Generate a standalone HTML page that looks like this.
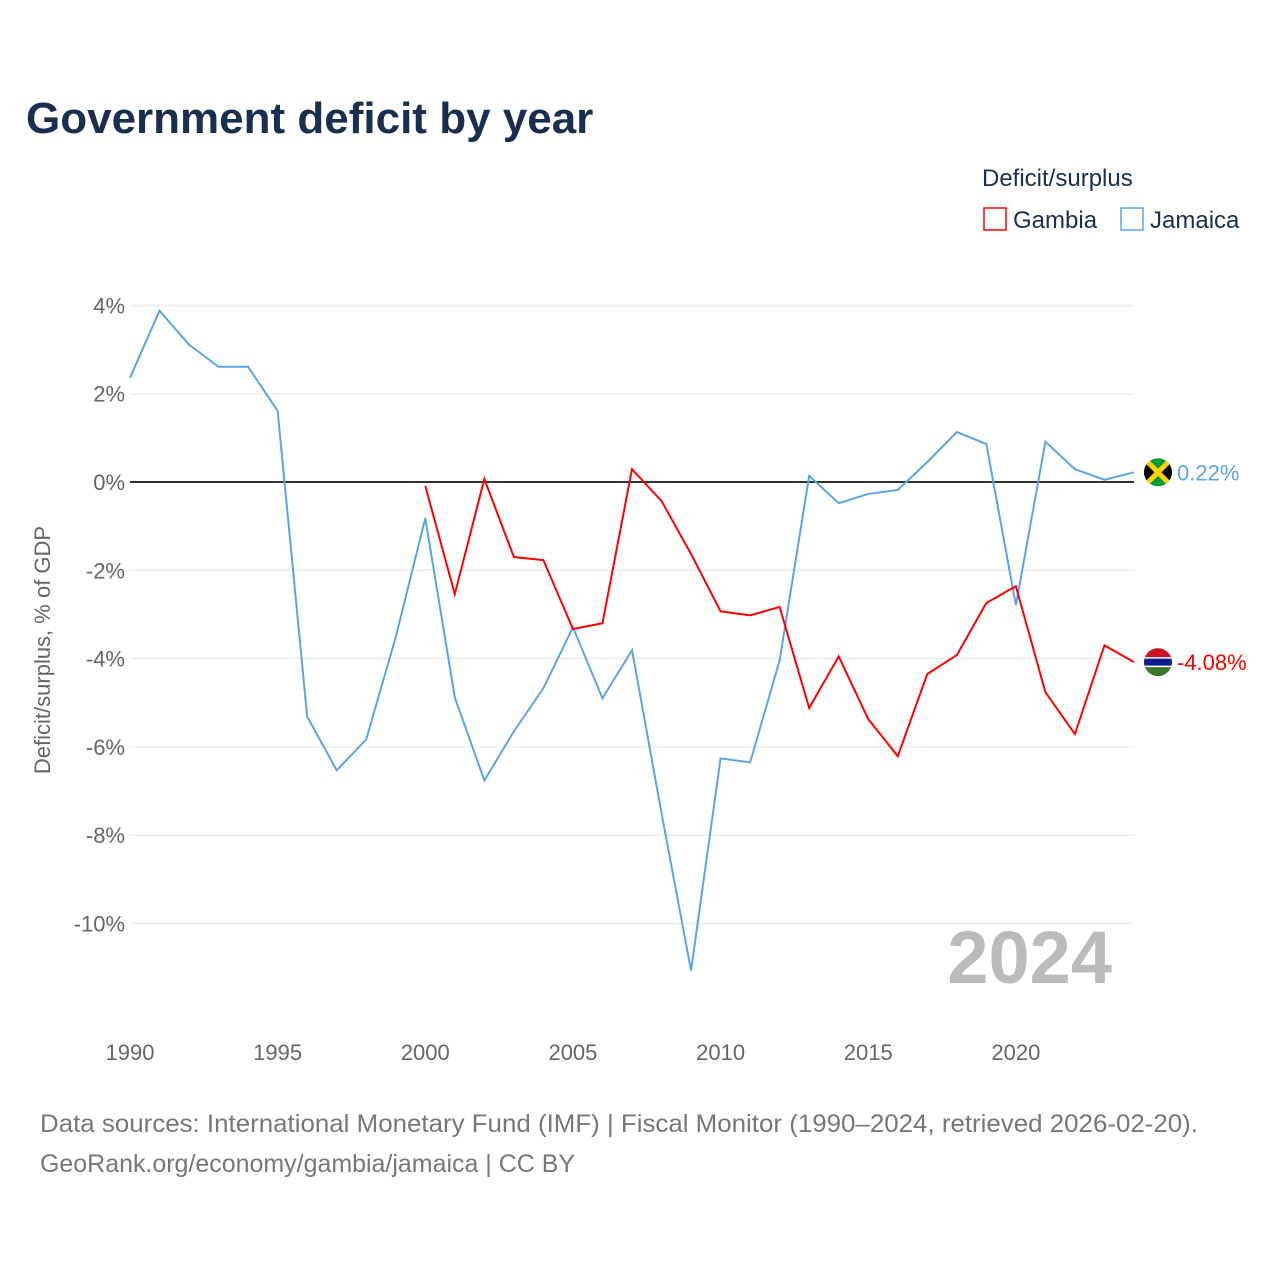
<!DOCTYPE html>
<html><head><meta charset="utf-8"><style>
body{margin:0;background:#fff;font-family:"Liberation Sans",sans-serif;}
#wrap{position:relative;width:1280px;height:1280px;overflow:hidden}
</style></head><body>
<div id="wrap">
<svg id="chart" width="1280" height="1280" font-family="Liberation Sans, sans-serif">
<text x="26" y="133" font-size="44" font-weight="bold" fill="#1a2e4f">Government deficit by year</text>
<text x="982" y="186" font-size="24" fill="#1a2e4f">Deficit/surplus</text>
<g><rect x="984" y="208" width="22" height="22" fill="none" stroke="#f00" stroke-width="1.5"/><text x="1013" y="228" font-size="24" fill="#1a2e4f">Gambia</text></g>
<g><rect x="1121" y="208" width="22" height="22" fill="none" stroke="#5aa5e8" stroke-width="1.5"/><text x="1150" y="228" font-size="24" fill="#1a2e4f">Jamaica</text></g>
<g id="grid"></g><g id="axes"></g><g id="series"></g>
<text x="1112" y="983" font-size="74" font-weight="bold" fill="#bbb" text-anchor="end">2024</text>
<text transform="translate(50,650) rotate(-90)" font-size="22" fill="#666" text-anchor="middle">Deficit/surplus, % of GDP</text>
<text x="40" y="1132" font-size="25" fill="#777" textLength="1158" lengthAdjust="spacingAndGlyphs">Data sources: International Monetary Fund (IMF) | Fiscal Monitor (1990–2024, retrieved 2026-02-20).</text>
<text x="40" y="1172" font-size="25" fill="#777" textLength="535" lengthAdjust="spacingAndGlyphs">GeoRank.org/economy/gambia/jamaica | CC BY</text>
</svg>
</div>
<script>
const years=[];for(let y=1990;y<=2024;y++)years.push(y);
const jamaica=[2.36,3.88,3.11,2.61,2.61,1.61,-5.31,-6.53,-5.83,-3.51,-0.82,-4.88,-6.76,-5.65,-4.67,-3.29,-4.90,-3.81,-7.5,-11.07,-6.26,-6.35,-4.04,0.14,-0.48,-0.27,-0.18,0.45,1.13,0.86,-2.79,0.91,0.29,0.05,0.22];
const gambiaYears=[2000,2001,2002,2003,2004,2005,2006,2007,2008,2009,2010,2011,2012,2013,2014,2015,2016,2017,2018,2019,2020,2021,2022,2023,2024];
const gambia=[-0.09,-2.54,0.07,-1.70,-1.77,-3.33,-3.20,0.29,-0.43,-1.63,-2.93,-3.02,-2.83,-5.12,-3.95,-5.37,-6.21,-4.35,-3.92,-2.74,-2.36,-4.76,-5.71,-3.70,-4.08];
const yTicks=[4,2,0,-2,-4,-6,-8,-10];
const xTicks=[1990,1995,2000,2005,2010,2015,2020];
const X=y=>130+(y-1990)*(1134-130)/34;
const Y=v=>482-v*44.15;
const NS='http://www.w3.org/2000/svg';
function mk(t,a,p){const e=document.createElementNS(NS,t);for(const k in a)e.setAttribute(k,a[k]);p.appendChild(e);return e;}
const grid=document.getElementById('grid'),axes=document.getElementById('axes'),ser=document.getElementById('series');
yTicks.forEach(v=>{
 const l=mk('line',{x1:130,x2:1134,y1:Y(v),y2:Y(v),stroke:v===0?'#333':'#e6e6e6','stroke-width':v===0?2:1},grid);
 
 
 const t=mk('text',{x:125,y:Y(v)+8,'font-size':22,fill:'#666','text-anchor':'end'},axes);t.textContent=v+'%';
 
 
});
xTicks.forEach(y=>{
 const t=mk('text',{x:X(y),y:1060,'font-size':22,fill:'#666','text-anchor':'middle'},axes);t.textContent=y;
 
 
});
const pj=mk('polyline',{points:years.map((y,i)=>X(y)+','+Y(jamaica[i])).join(' '),fill:'none',stroke:'#5aa5e8','stroke-width':2},ser);


const pg=mk('polyline',{points:gambiaYears.map((y,i)=>X(y)+','+Y(gambia[i])).join(' '),fill:'none',stroke:'#f00','stroke-width':2},ser);


function flag(v,stripes,col,name,val){
 const cy=Y(v),cx=1158,g=mk('g',{},ser);
 
 
 const cp=mk('clipPath',{id:name+'c'},g);
 mk('circle',{cx:cx,cy:cy,r:14},cp);
 const gg=mk('g',{'clip-path':'url(#'+name+'c)'},g);
 stripes(gg,cx,cy);
 const t=mk('text',{x:1177,y:cy+8,'font-size':22,fill:col},ser);t.textContent=val;
 
 
}
flag(jamaica[34],(g,cx,cy)=>{mk('rect',{x:cx-14,y:cy-14,width:28,height:28,fill:'#009b3a'},g);mk('polygon',{points:`${cx-14},${cy-14} ${cx},${cy} ${cx-14},${cy+14}`,fill:'#000'},g);mk('polygon',{points:`${cx+14},${cy-14} ${cx},${cy} ${cx+14},${cy+14}`,fill:'#000'},g);mk('path',{d:`M${cx-14} ${cy-14}L${cx+14} ${cy+14}M${cx+14} ${cy-14}L${cx-14} ${cy+14}`,stroke:'#fed100','stroke-width':5},g);},'#5aa5e8','jamaica-flag',jamaica[34].toFixed(2)+'%');
flag(gambia[24],(g,cx,cy)=>{mk('rect',{x:cx-14,y:cy-14,width:28,height:10,fill:'#ce1126'},g);mk('rect',{x:cx-14,y:cy-4,width:28,height:8,fill:'#0c1c8c'},g);mk('rect',{x:cx-14,y:cy-5,width:28,height:1.5,fill:'#fff'},g);mk('rect',{x:cx-14,y:cy+3.5,width:28,height:1.5,fill:'#fff'},g);mk('rect',{x:cx-14,y:cy+5,width:28,height:9,fill:'#3a7728'},g);},'#f00','gambia-flag',gambia[24].toFixed(2)+'%');
</script>
</body></html>
